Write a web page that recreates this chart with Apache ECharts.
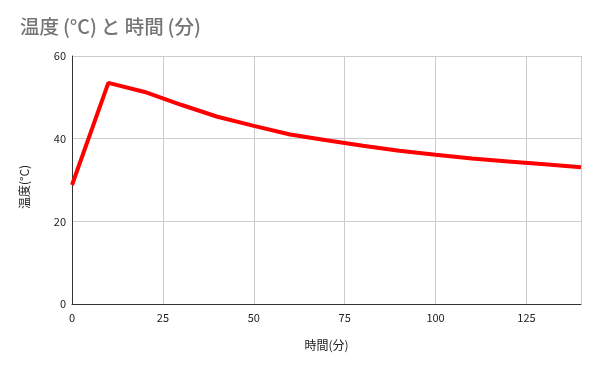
<!DOCTYPE html>
<html><head><meta charset="utf-8">
<script src="https://cdn.jsdelivr.net/npm/echarts@6/dist/echarts.min.js"></script>
<style>html,body{margin:0;padding:0;background:#fff}#c{width:600px;height:371px}</style>
</head><body><div id="c"></div>
<script>
const titleText = '温度\u2009(°C)\u2009と 時間\u2009(分)';
const xName = '時間(分)';
const yName = '温度(°C)';
const times = [0, 10, 20, 30, 40, 50, 60, 70, 80, 90, 100, 110, 120, 130, 140];
const temps = [28.8, 53.5, 51.3, 48.2, 45.3, 43.1, 41.0, 39.6, 38.3, 37.1, 36.1, 35.2, 34.5, 33.8, 33.1];

const chart = echarts.init(document.getElementById('c'), null, {renderer: 'canvas'});
const font = '"Noto Sans CJK JP", "Noto Sans", sans-serif';
chart.setOption({
  animation: false,
  backgroundColor: '#fff',
  title: {
    text: titleText, left: 15, top: 12,
    textStyle: {fontFamily: font, fontSize: 19.5, fontWeight: 500, color: '#757575'}
  },
  grid: {left: 72, right: 19, top: 56, bottom: 67, containLabel: false},
  xAxis: {
    type: 'value', min: 0, max: 140, interval: 25,
    name: xName, nameLocation: 'middle', nameGap: 35,
    nameTextStyle: {fontFamily: font, fontSize: 12, color: '#222'},
    axisLine: {show: true, lineStyle: {color: '#333', width: 1}},
    axisTick: {show: false},
    axisLabel: {fontFamily: font, fontSize: 11, color: '#222', margin: 8, showMaxLabel: false},
    splitLine: {show: true, lineStyle: {color: '#ccc', width: 1}}
  },
  yAxis: {
    type: 'value', min: 0, max: 60, interval: 20,
    name: yName, nameLocation: 'middle', nameGap: 42, nameRotate: 90,
    nameTextStyle: {fontFamily: font, fontSize: 12, color: '#222', padding: [0, 14, 0, 0]},
    axisLine: {show: true, lineStyle: {color: '#333', width: 1}},
    axisTick: {show: false},
    axisLabel: {fontFamily: font, fontSize: 11, color: '#222', margin: 6},
    splitLine: {show: true, lineStyle: {color: '#ccc', width: 1}}
  },
  series: [{
    type: 'line',
    data: times.map((t, i) => [t, temps[i]]),
    showSymbol: false,
    lineStyle: {color: '#ff0000', width: 4},
    itemStyle: {color: '#ff0000'}
  }]
});
</script></body></html>
